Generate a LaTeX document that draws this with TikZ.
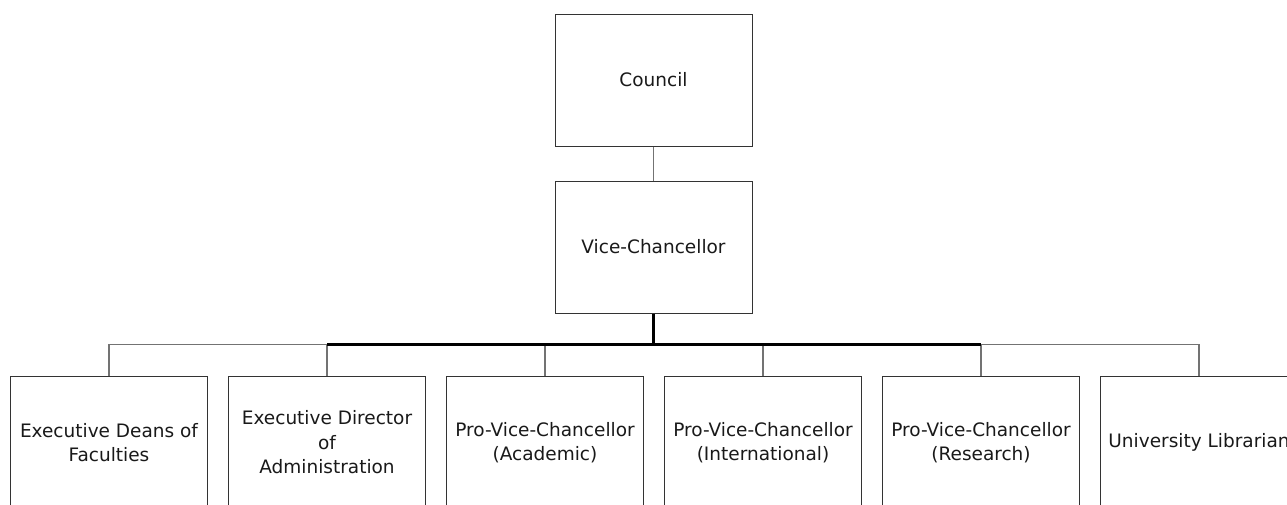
\documentclass[tikz,border=0pt]{standalone}
\usepackage{fontspec}
\setmainfont{DejaVu Sans}
\usepackage{tikz}
\usetikzlibrary{positioning}

\begin{document}
\begin{tikzpicture}[x=1pt,y=-1pt,node distance=20pt,
  post/.style={draw=black!80,line width=1pt,text=black!90,minimum width=197pt,minimum height=132pt,inner sep=2pt,align=center,font=\fontsize{18.5}{24.5}\selectfont},
  branch/.style={draw=black!55,line width=1.3pt},
  trunk/.style={draw=black,line width=2.2pt}]
\clip (0,0) rectangle (1287,504);
\node[post] (council) at (653.5,80) {Council};
\node[post,below=34pt of council] (vc) {Vice-Chancellor};
\coordinate (bar) at (653.5,344.5);
\node[post] (deans) at (109,442.5) {Executive Deans of\\Faculties};
\node[post,right=of deans] (admin) {Executive Director\\of\\Administration};
\node[post,right=of admin] (academic) {Pro-Vice-Chancellor\\(Academic)};
\node[post,right=of academic] (intl) {Pro-Vice-Chancellor\\(International)};
\node[post,right=of intl] (research) {Pro-Vice-Chancellor\\(Research)};
\node[post,right=of research] (librarian) {University Librarian};
\draw[branch] (council) -- (vc);
\foreach \n in {deans,admin,academic,intl,research,librarian}
  \draw[branch] (\n.north) |- (bar);
\draw[trunk] (vc) -- (bar);
\draw[trunk] (admin.north |- bar) -- (research.north |- bar);
\end{tikzpicture}
\end{document}
